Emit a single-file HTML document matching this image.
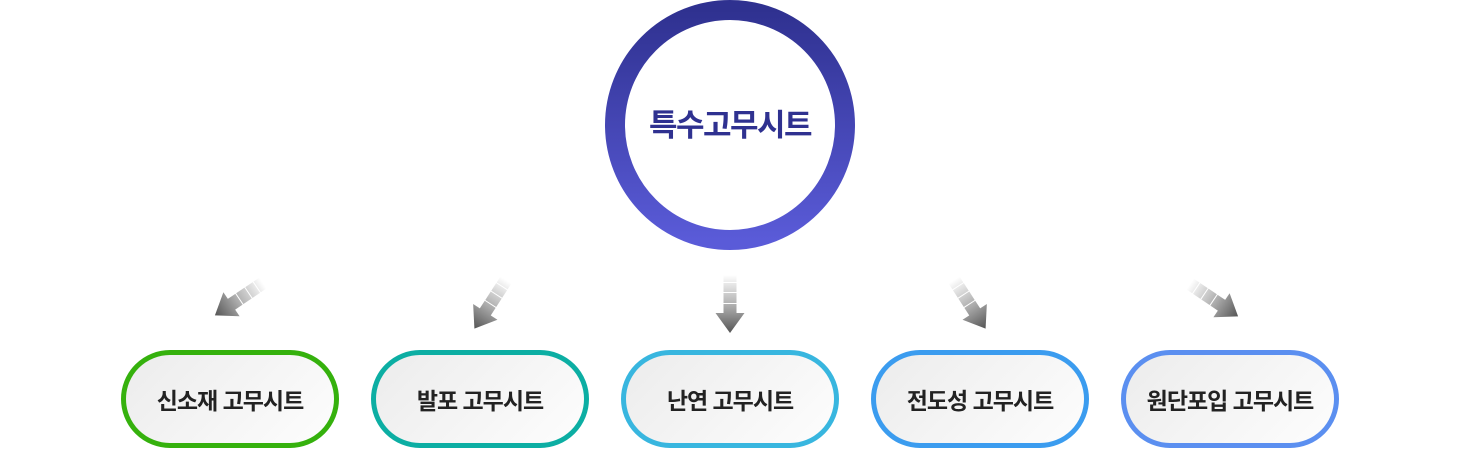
<!DOCTYPE html>
<html><head><meta charset="utf-8"><style>
html,body{margin:0;padding:0;background:#fff;}
body{width:1460px;height:450px;position:relative;overflow:hidden;font-family:"Liberation Sans","Noto Sans CJK KR",sans-serif;}
.pill{position:absolute;top:350px;width:218px;height:98px;box-sizing:border-box;border:5px solid;border-radius:49px;background:linear-gradient(135deg,#ececec,#fdfdfd);display:flex;align-items:center;justify-content:center;font-size:23px;font-weight:bold;color:#222;letter-spacing:-1px;}
</style></head><body>
<svg width="1460" height="450" style="position:absolute;left:0;top:0">
<defs>
<linearGradient id="ring" x1="0" y1="0" x2="0" y2="1"><stop offset="0" stop-color="#2f3190"/><stop offset="1" stop-color="#5a5bd8"/></linearGradient>
<linearGradient id="ag" gradientUnits="userSpaceOnUse" x1="0" y1="0" x2="0" y2="58"><stop offset="0" stop-color="#fff"/><stop offset="0.55" stop-color="#aaa"/><stop offset="1" stop-color="#555"/></linearGradient>
<g id="arr" fill="url(#ag)">
<rect x="-6.5" y="0" width="13" height="7"/>
<rect x="-6.5" y="8" width="13" height="9"/>
<rect x="-6.5" y="18" width="13" height="10"/>
<rect x="-6.5" y="29" width="13" height="10"/>
<polygon points="-14.5,38 14.5,38 0,58"/>
</g>
</defs>
<circle cx="730" cy="125" r="115" fill="#fff" stroke="url(#ring)" stroke-width="20"/>
<text x="730" y="136" text-anchor="middle" font-size="31" font-weight="bold" fill="#2f3190" letter-spacing="-1.5" font-family="Liberation Sans, Noto Sans CJK KR, sans-serif">특수고무시트</text>
<use href="#arr" transform="translate(730,275)"/>
<use href="#arr" transform="translate(263,283) rotate(56)"/>
<use href="#arr" transform="translate(506,280) rotate(33)"/>
<use href="#arr" transform="translate(954,280) rotate(-33)"/>
<use href="#arr" transform="translate(1190,284) rotate(-56)"/>
</svg>
<div class="pill" style="left:121px;border-color:#35b10d">신소재 고무시트</div>
<div class="pill" style="left:371px;border-color:#0caea3">발포 고무시트</div>
<div class="pill" style="left:621px;border-color:#38b6df">난연 고무시트</div>
<div class="pill" style="left:871px;border-color:#3b9cef">전도성 고무시트</div>
<div class="pill" style="left:1121px;border-color:#5b8ff0">원단포입 고무시트</div>
</body></html>
